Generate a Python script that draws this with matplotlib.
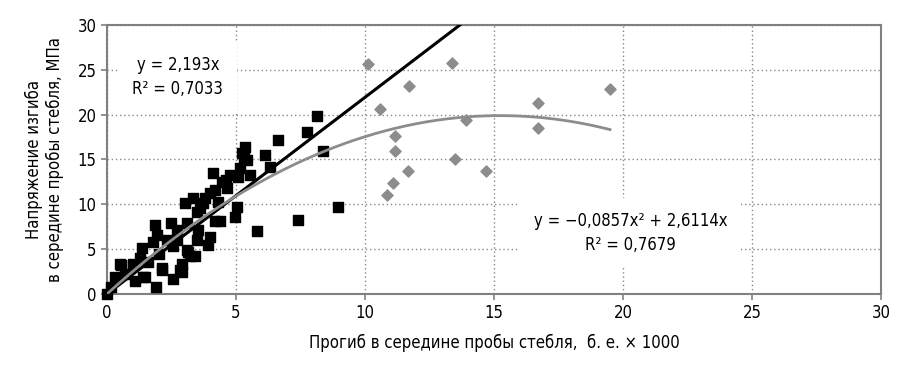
import numpy as np
import matplotlib
import matplotlib.pyplot as plt

matplotlib.use('agg')

plt.rcParams['font.family'] = ['DejaVu Sans']
plt.rcParams['font.stretch'] = 'condensed'

# black squares: x (deflection), y (stress)
sq_x = [0.0, 0.31, 0.53, 1.0, 1.09, 1.28, 1.34, 1.47, 1.78, 1.86, 1.92, 1.9, 2.12,
        2.31, 2.5, 2.56, 2.54, 2.7, 2.9, 2.9, 3.02, 3.09, 3.1, 3.2, 3.35, 3.41, 3.48,
        3.48, 3.54, 3.73, 3.8, 3.93, 3.99, 4.12, 4.19, 4.19, 4.32, 4.38, 4.45, 4.64,
        4.77, 4.96, 5.03, 5.09, 5.16, 5.22, 5.35, 5.41, 5.54, 5.8, 6.12, 6.32, 6.64,
        7.39, 7.75, 8.14, 8.36, 8.97, 0.5, 1.02, 1.4, 2.12, 2.7, 2.83, 3.15, 0.15,
        0.7, 1.6, 2.0, 3.6, 4.0, 4.6, 5.3]
sq_y = [0.0, 1.9, 3.2, 3.2, 1.4, 4.0, 5.1, 1.9, 5.8, 7.7, 6.6, 0.8, 2.9,
        6.0, 7.9, 5.3, 1.7, 7.1, 3.4, 2.5, 10.1, 7.9, 4.9, 4.2, 10.7, 4.2, 9.2,
        6.0, 7.1, 10.1, 10.7, 5.5, 6.4, 13.5, 11.6, 8.1, 10.3, 8.1, 12.5, 11.8,
        13.3, 8.6, 9.7, 13.1, 14.0, 15.7, 16.4, 14.9, 13.3, 7.0, 15.5, 14.2, 17.2,
        8.3, 18.1, 19.8, 16.0, 9.7, 3.4, 3.4, 1.9, 2.7, 6.0, 2.7, 4.7, 0.8,
        2.2, 3.6, 4.5, 9.6, 11.3, 12.7, 15.2]

# grey diamonds
dm_x = [10.13, 13.36, 11.72, 10.58, 19.5, 16.69, 13.91, 16.69, 11.16, 11.16,
        13.49, 11.65, 14.69, 11.1, 10.84]
dm_y = [25.7, 25.8, 23.2, 20.6, 22.9, 21.3, 19.4, 18.5, 17.6, 15.9,
        15.1, 13.7, 13.7, 12.4, 11.0]

lin_k = 2.193
quad_a, quad_b = -0.0857, 2.6114

fig = plt.figure(figsize=(9.02, 3.67), dpi=100)
ax = fig.add_axes([0.1186, 0.1989, 0.858, 0.733])

ax.set_xlim(0, 30)
ax.set_ylim(0, 30)
ax.set_xticks(range(0, 31, 5))
ax.set_yticks(range(0, 31, 5))
ax.grid(True, color='#888888', linestyle=(0, (1, 2)), linewidth=1.0)
ax.set_axisbelow(True)
for s in ax.spines.values():
    s.set_color('#808080')
    s.set_linewidth(1.5)
ax.tick_params(colors='#808080', labelcolor='black', labelsize=12, length=4, width=1.2)

ax.scatter(sq_x, sq_y, marker='s', s=55, color='black', zorder=3, clip_on=False)
ax.scatter(dm_x, dm_y, marker='D', s=32, color='#8c8c8c', zorder=3)

xl = np.linspace(0, 30 / lin_k, 50)
ax.plot(xl, lin_k * xl, color='black', linewidth=2.2, zorder=4)
xq = np.linspace(0, 19.5, 200)
ax.plot(xq, quad_a * xq ** 2 + quad_b * xq, color='#8c8c8c', linewidth=2.0, zorder=4)

box = dict(facecolor='white', edgecolor='none', pad=10)
ax.text(2.75, 24.2, 'y = 2,193x\nR\u00b2 = 0,7033', ha='center', va='center',
        fontsize=12, linespacing=1.4, bbox=box, zorder=2)
ax.text(20.3, 6.8, 'y = \u22120,0857x\u00b2 + 2,6114x\nR\u00b2 = 0,7679', ha='center',
        va='center', fontsize=12, linespacing=1.4, bbox=box, zorder=2)

ax.set_xlabel('Прогиб в середине пробы стебля,  б. е. \u00d7 1000', fontsize=12, labelpad=8)
ax.set_ylabel('Напряжение изгиба\nв середине пробы стебля, МПа', fontsize=12, labelpad=10)

fig.savefig('out.png', dpi=100)
